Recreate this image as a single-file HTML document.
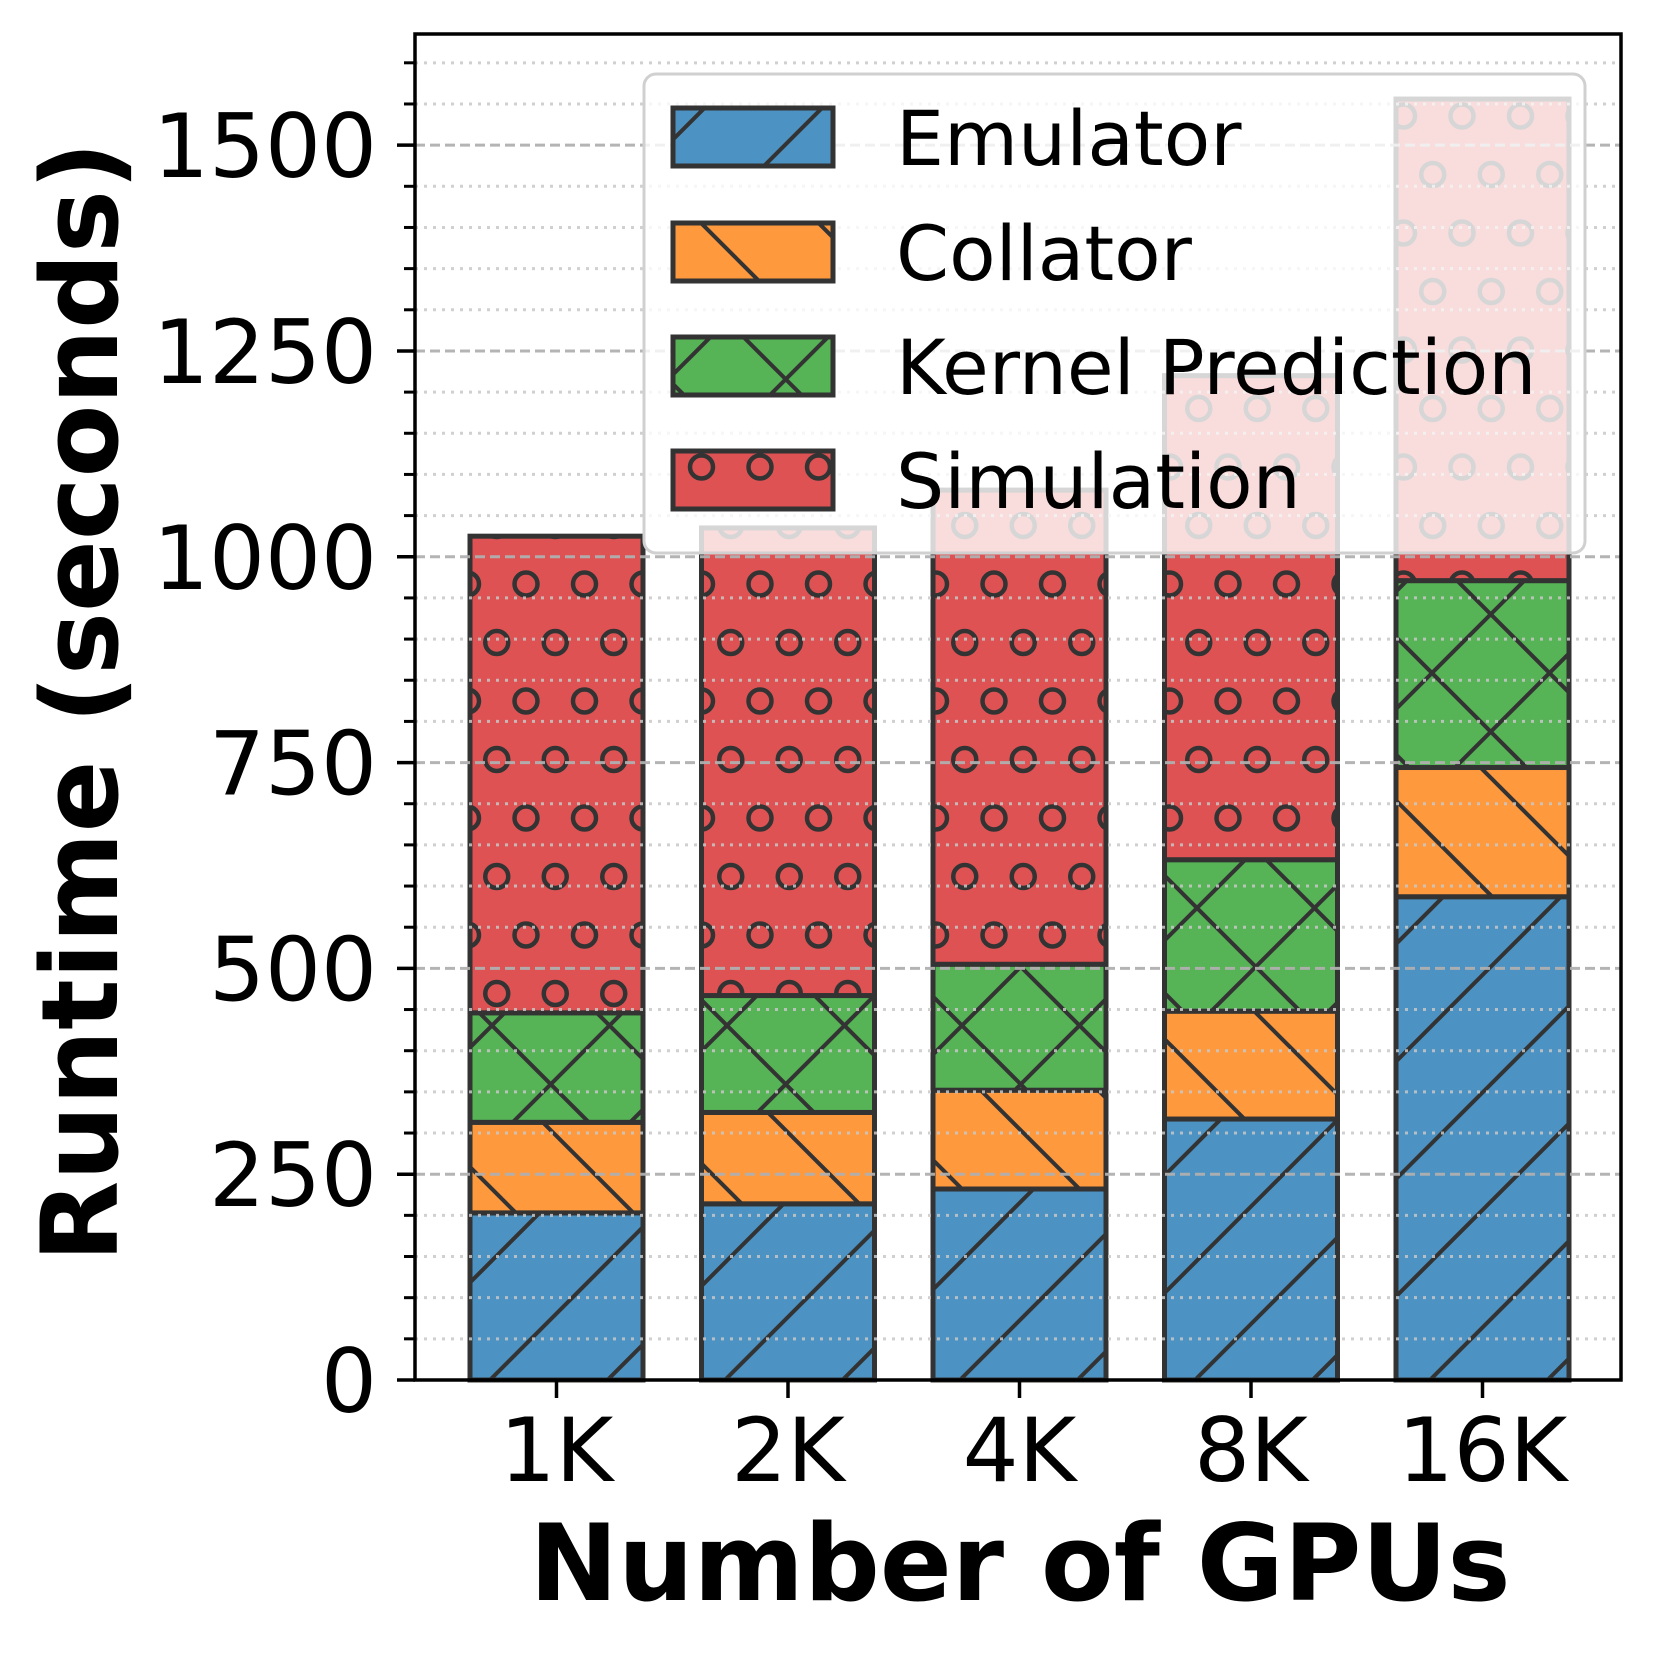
<!DOCTYPE html>
<html><head><meta charset="utf-8"><style>
html,body{margin:0;padding:0;background:#fff;}
svg{display:block;font-family:"DejaVu Sans","Liberation Sans",sans-serif;}
</style></head>
<body>
<svg id="chart" width="1656" height="1657" viewBox="0 0 1656 1657" xmlns="http://www.w3.org/2000/svg">
<defs>
  <pattern id="h-slash" patternUnits="userSpaceOnUse" width="117.5" height="117.5" patternTransform="translate(492,1378)">
    <line x1="-10" y1="127.5" x2="127.5" y2="-10" stroke="#333" stroke-width="4"/>
    <line x1="-10" y1="10" x2="10" y2="-10" stroke="#333" stroke-width="4"/>
    <line x1="107.5" y1="127.5" x2="127.5" y2="107.5" stroke="#333" stroke-width="4"/>
  </pattern>
  <pattern id="h-back" patternUnits="userSpaceOnUse" width="117.5" height="117.5" patternTransform="translate(503,1200)">
    <line x1="-10" y1="-10" x2="127.5" y2="127.5" stroke="#333" stroke-width="4"/>
    <line x1="107.5" y1="-10" x2="127.5" y2="10" stroke="#333" stroke-width="4"/>
    <line x1="-10" y1="107.5" x2="10" y2="127.5" stroke="#333" stroke-width="4"/>
  </pattern>
  <pattern id="h-cross" patternUnits="userSpaceOnUse" width="117.5" height="117.5" patternTransform="translate(492,1378)">
    <line x1="-10" y1="127.5" x2="127.5" y2="-10" stroke="#333" stroke-width="4"/>
    <line x1="-10" y1="10" x2="10" y2="-10" stroke="#333" stroke-width="4"/>
    <line x1="107.5" y1="127.5" x2="127.5" y2="107.5" stroke="#333" stroke-width="4"/>
    <line x1="-10" y1="-10" x2="127.5" y2="127.5" stroke="#333" stroke-width="4"/>
    <line x1="107.5" y1="-10" x2="127.5" y2="10" stroke="#333" stroke-width="4"/>
    <line x1="-10" y1="107.5" x2="10" y2="127.5" stroke="#333" stroke-width="4"/>
  </pattern>
  <pattern id="h-circle" patternUnits="userSpaceOnUse" width="117" height="117" patternTransform="translate(526,584)">
    <g fill="none" stroke="#333" stroke-width="4.5">
      <circle cx="0" cy="0" r="11.5"/><circle cx="117" cy="0" r="11.5"/>
      <circle cx="0" cy="117" r="11.5"/><circle cx="117" cy="117" r="11.5"/>
      <circle cx="58.5" cy="0" r="11.5"/><circle cx="58.5" cy="117" r="11.5"/>
      <circle cx="29.25" cy="58.5" r="11.5"/><circle cx="87.75" cy="58.5" r="11.5"/>
    </g>
  </pattern>
</defs>
<g id="bars"></g>
<g id="grid"></g>
<g id="legend"></g>
<g id="axes"></g>
</svg>
<script>
const categories = ["1K","2K","4K","8K","16K"];
const emulator = [203, 214, 232, 317, 587];
const collator = [110, 111, 120, 131, 157];
const kernelPrediction = [133, 142, 153, 184, 227];
const simulation = [579, 568, 576, 588, 585];
const yTicks = [0, 250, 500, 750, 1000, 1250, 1500];
const seriesNames = ["Emulator","Collator","Kernel Prediction","Simulation"];

const NS = "http://www.w3.org/2000/svg";
const PL = 415, PR = 1621, PT = 34, PB = 1380, YMAX = 1635;
const X0 = 556.5, XSTEP = 231.5, BW = 173;
function yScale(v){ return PB - v / YMAX * (PB - PT); }
function xScale(i){ return X0 + i * XSTEP; }
function mk(tag, attrs, parent){
  const e = document.createElementNS(NS, tag);
  for (const k in attrs) e.setAttribute(k, attrs[k]);
  parent.appendChild(e); return e;
}
const colors = ["#4c92c3","#ff993e","#56b356","#de5253"];
const hatches = ["url(#h-slash)","url(#h-back)","url(#h-cross)","url(#h-circle)"];
const series = [emulator, collator, kernelPrediction, simulation];
const keys = ["emulator","collator","kernel-prediction","simulation"];

const gBars = document.getElementById("bars");
categories.forEach((c, i) => {
  let base = 0;
  series.forEach((s, k) => {
    const v = s[i];
    const y1 = yScale(base + v), y0 = yScale(base);
    const x = xScale(i) - BW / 2;
    const g = mk("g", {}, gBars);
    
    
    mk("rect", {x:x, y:y1, width:BW, height:y0 - y1, fill:colors[k]}, g);
    mk("rect", {x:x, y:y1, width:BW, height:y0 - y1, fill:hatches[k], stroke:"#333", "stroke-width":5}, g);
    base += v;
  });
});

const gGrid = document.getElementById("grid");
for (let v = 50; v < YMAX; v += 50) {
  const y = yScale(v);
  const major = v % 250 === 0;
  const ln = mk("line", {x1:PL, x2:PR, y1:y, y2:y,
    stroke: major ? "#b0b0b0" : "#c8c8c8", "stroke-width": 3,
    "stroke-dasharray": major ? "10,5" : "3,6", opacity: major ? 0.95 : 0.85}, gGrid);
  
  
}

const gLeg = document.getElementById("legend");


mk("rect", {x:644, y:74, width:941, height:479, rx:12, fill:"#fff", "fill-opacity":0.8, stroke:"#d0d0d0", "stroke-width":3}, gLeg);
const rowTop = [108, 223, 337, 451];
const rowBase = [165, 280, 394, 508];
seriesNames.forEach((n, k) => {
  const g = mk("g", {}, gLeg);
  
  
  mk("rect", {x:673, y:rowTop[k], width:160, height:58, fill:colors[k]}, g);
  mk("rect", {x:673, y:rowTop[k], width:160, height:58, fill:hatches[k], stroke:"#333", "stroke-width":5}, g);
  const t = mk("text", {x:896, y:rowBase[k], "font-size":76, fill:"#000"}, g);
  t.textContent = n;
});

const gAx = document.getElementById("axes");
const sp = mk("rect", {x:PL, y:PT, width:PR - PL, height:PB - PT, fill:"none", stroke:"#000", "stroke-width":3.5}, gAx);


for (let v = 0; v < YMAX; v += 50) {
  const y = yScale(v);
  const major = v % 250 === 0;
  const tk = mk("line", {x1:PL - (major ? 18 : 11), x2:PL, y1:y, y2:y, stroke:"#000", "stroke-width": major ? 3.5 : 3}, gAx);
  
  
}
yTicks.forEach(v => {
  const t = mk("text", {x:377, y:yScale(v) + 32, "font-size":88, "text-anchor":"end", fill:"#000"}, gAx);
  
  
  t.textContent = v;
});
categories.forEach((c, i) => {
  const x = xScale(i);
  const tk = mk("line", {x1:x, x2:x, y1:PB, y2:PB + 18, stroke:"#000", "stroke-width":3.5}, gAx);
  
  
  const t = mk("text", {x:x, y:1481, "font-size":88, "text-anchor":"middle", fill:"#000"}, gAx);
  
  
  t.textContent = c;
});
const xl = mk("text", {x:1020, y:1600, "font-size":106, "font-weight":"bold", "text-anchor":"middle", fill:"#000"}, gAx);


xl.textContent = "Number of GPUs";
const yl = mk("text", {x:117, y:702, "font-size":106, "font-weight":"bold", "text-anchor":"middle", fill:"#000", transform:"rotate(-90 117 702)"}, gAx);


yl.textContent = "Runtime (seconds)";
</script>
</body></html>
